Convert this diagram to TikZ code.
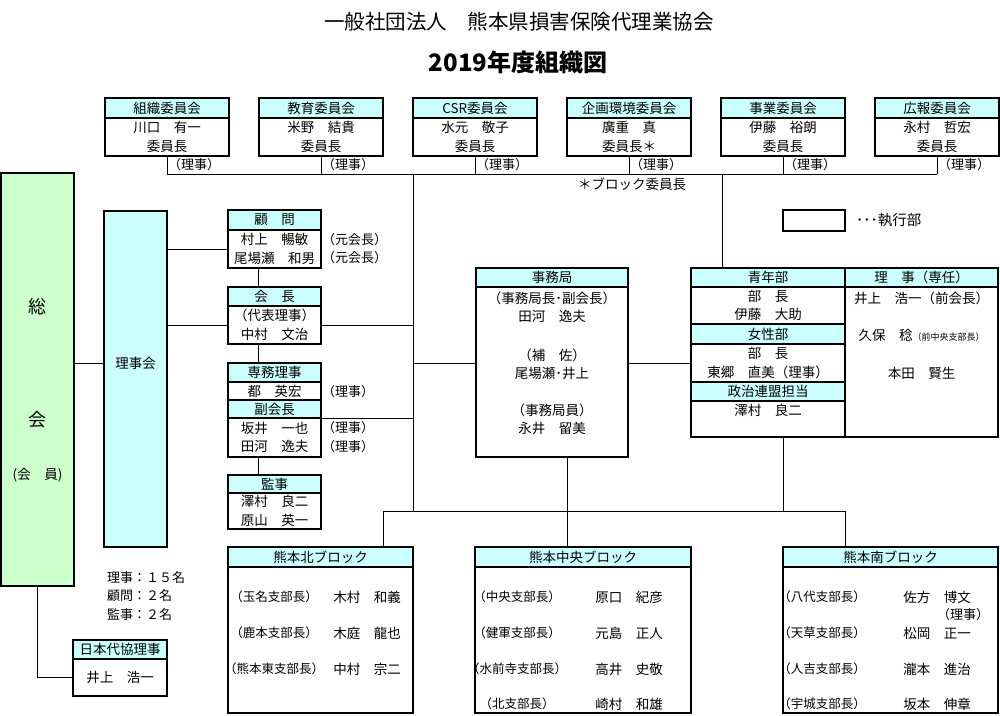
\documentclass[tikz,border=0pt]{standalone}
\usepackage{fontspec}
\setmainfont{Noto Sans CJK JP}
\usetikzlibrary{positioning}
\definecolor{hdrcyan}{RGB}{204,255,255}
\definecolor{sokaigreen}{RGB}{204,255,204}

\begin{document}
\begin{tikzpicture}[
      x=1pt, y=-1pt,
      node distance=0pt,
      font=\fontsize{13.5}{18.5}\selectfont,
      hdr/.style={draw, fill=hdrcyan, line width=1.3pt, inner sep=0pt, outer sep=0pt, anchor=north},
      panel/.style={draw, line width=1.3pt, inner sep=0pt, outer sep=0pt, align=center},
      link/.style={line width=1pt},
      txt/.style={inner sep=0pt, align=center},
      note/.style={anchor=west, inner sep=0pt, font=\fontsize{13}{15}\selectfont},
      lbl/.style={inner sep=0pt, font=\fontsize{12.5}{14}\selectfont}
    ]
    \useasboundingbox (0,0) rectangle (1000,715);

    \node[txt, font=\fontsize{20.5}{24}\selectfont] (title) at (519,22) {一般社団法人　熊本県損害保険代理業協会};
    \node[txt, font=\fontsize{24}{28}\selectfont\bfseries] (subtitle) at (518,62) {2019年度組織図};

    \node[hdr, minimum width=124pt, minimum height=20pt] (soshiki) at (167,98) {組織委員会};
    \node[panel, minimum width=124pt, minimum height=38pt, below=of soshiki] (soshikiB) {川口　有一\\委員長};
    \node[hdr, minimum width=124pt, minimum height=20pt] (kyoiku) at (321,98) {教育委員会};
    \node[panel, minimum width=124pt, minimum height=38pt, below=of kyoiku] (kyoikuB) {米野　結貴\\委員長};
    \node[hdr, minimum width=124pt, minimum height=20pt] (csr) at (475,98) {CSR委員会};
    \node[panel, minimum width=124pt, minimum height=38pt, below=of csr] (csrB) {水元　敬子\\委員長};
    \node[hdr, minimum width=124pt, minimum height=20pt] (kikaku) at (629,98) {企画環境委員会};
    \node[panel, minimum width=124pt, minimum height=38pt, below=of kikaku] (kikakuB) {廣重　真\\委員長＊};
    \node[hdr, minimum width=124pt, minimum height=20pt] (jigyo) at (783,98) {事業委員会};
    \node[panel, minimum width=124pt, minimum height=38pt, below=of jigyo] (jigyoB) {伊藤　裕朗\\委員長};
    \node[hdr, minimum width=124pt, minimum height=20pt] (koho) at (937,98) {広報委員会};
    \node[panel, minimum width=124pt, minimum height=38pt, below=of koho] (kohoB) {永村　哲宏\\委員長};

    \node[note] (soshikiN) at (168,165) {（理事）};
    \node[note] (kyoikuN) at (322,165) {（理事）};
    \node[note] (csrN) at (476,165) {（理事）};
    \node[note] (kikakuN) at (630,165) {（理事）};
    \node[note] (jigyoN) at (784,165) {（理事）};
    \node[note] (kohoN) at (938,165) {（理事）};
    \node[txt] (blockcho) at (632,184) {＊ブロック委員長};

    \coordinate (bus) at (0,174);
    \coordinate (trunk) at (413,174);
    \coordinate (seinenTap) at (722,174);
    \coordinate (kitaTap) at (383,511);
    \coordinate (chuoTap) at (567,511);
    \coordinate (seijiTap) at (783,511);
    \coordinate (minamiTap) at (845,511);
    \coordinate (midrow) at (0,363);

    \node[panel, fill=sokaigreen, minimum width=73pt, minimum height=413pt, anchor=north west] (sokai) at (1,173) {};
    \node[txt, font=\fontsize{18}{20}\selectfont] (sokaiA) at (37.5,307) {総};
    \node[txt, font=\fontsize{18}{20}\selectfont] (sokaiB) at (37.5,420) {会};
    \node[txt] (sokaiC) at (37.5,475) {(会　員)};

    \node[panel, fill=hdrcyan, minimum width=63pt, minimum height=336pt, anchor=north west] (rijikai) at (104,211) {};
    \node[txt] (rijikaiT) at (135.5,363) {理事会};

    \node[hdr, minimum width=94pt, minimum height=19pt] (nichidai) at (120,640) {日本代協理事};
    \node[panel, minimum width=94pt, minimum height=37pt, below=of nichidai] (nichidaiB) {井上　浩一};

    \node[note] (countA) at (107,578) {理事：１５名};
    \node[note] (countB) at (107,596) {顧問：２名};
    \node[note] (countC) at (107,615) {監事：２名};

    \node[hdr, minimum width=93pt, minimum height=20pt] (komon) at (274.5,210) {顧　問};
    \node[panel, minimum width=93pt, minimum height=38pt, below=of komon] (komonB) {村上　暢敏\\尾場瀬　和男};
    \node[note] (komonN1) at (322,240) {（元会長）};
    \node[note] (komonN2) at (322,258) {（元会長）};

    \node[hdr, minimum width=93pt, minimum height=19pt] (kaicho) at (274.5,287) {会　長};
    \node[panel, minimum width=93pt, minimum height=38pt, below=of kaicho] (kaichoB) {（代表理事）\\中村　文治};

    \node[hdr, minimum width=93pt, minimum height=19pt] (senmu) at (274.5,363) {専務理事};
    \node[panel, minimum width=93pt, minimum height=18pt, below=of senmu] (senmuB) {都　英宏};
    \node[hdr, minimum width=93pt, minimum height=18pt, below=of senmuB] (fuku) {副会長};
    \node[panel, minimum width=93pt, minimum height=39pt, below=of fuku] (fukuB) {坂井　一也\\田河　逸夫};
    \node[note] (senmuN) at (322,392) {（理事）};
    \node[note] (fukuN1) at (322,428) {（理事）};
    \node[note] (fukuN2) at (322,447) {（理事）};

    \node[hdr, minimum width=93pt, minimum height=18pt] (kanji) at (274.5,475) {監事};
    \node[panel, minimum width=93pt, minimum height=36pt, below=of kanji] (kanjiB) {澤村　良二\\原山　英一};

    \node[hdr, minimum width=152pt, minimum height=19pt] (jimu) at (552,268) {事務局};
    \node[panel, minimum width=152pt, minimum height=170pt, below=of jimu] (jimuB) {};
    \node[txt] (jimuT1) at (552,298) {（事務局長･副会長）};
    \node[txt] (jimuT2) at (552,316) {田河　逸夫};
    \node[txt] (jimuT3) at (552,355) {（補　佐）};
    \node[txt] (jimuT4) at (552,373) {尾場瀬･井上};
    \node[txt] (jimuT5) at (552,410) {（事務局員）};
    \node[txt] (jimuT6) at (552,428) {永井　留美};

    \node[hdr, minimum width=154pt, minimum height=19pt] (seinen) at (768,268) {青年部};
    \node[panel, minimum width=154pt, minimum height=37pt, below=of seinen] (seinenB) {部　長\\伊藤　大助};
    \node[hdr, minimum width=154pt, minimum height=20pt, below=of seinenB] (josei) {女性部};
    \node[panel, minimum width=154pt, minimum height=38pt, below=of josei] (joseiB) {部　長\\東郷　直美（理事）};
    \node[hdr, minimum width=154pt, minimum height=19pt, below=of joseiB] (seiji) {政治連盟担当};
    \node[panel, minimum width=154pt, minimum height=36pt, below=of seiji] (seijiB) {};
    \node[txt] (seijiT) at (768,410) {澤村　良二};

    \node[hdr, minimum width=153pt, minimum height=19pt] (senin) at (921.5,268) {理　事（専任）};
    \node[panel, minimum width=153pt, minimum height=150pt, below=of senin] (seninB) {};
    \node[txt] (seninT1) at (921.5,298) {井上　浩一（前会長）};
    \node[txt] (seninT2) at (921.5,335) {久保　稔{\fontsize{9}{10}\selectfont（前中央支部長）}};
    \node[txt] (seninT3) at (921.5,373) {本田　賢生};

    \node[panel, minimum width=62pt, minimum height=21pt, anchor=north west] (legend) at (783,210) {};
    \node[note, font=\fontsize{14.5}{16}\selectfont, right=11pt of legend] (legendT) {･･･執行部};

    \node[hdr, minimum width=185pt, minimum height=20pt] (kita) at (320.5,547) {熊本北ブロック};
    \node[panel, minimum width=185pt, minimum height=146pt, below=of kita] (kitaB) {};
    \node[lbl] (kitaL1) at (274,597) {（玉名支部長）};
    \node[lbl] (kitaL2) at (274,633) {（鹿本支部長）};
    \node[lbl] (kitaL3) at (274,669) {（熊本東支部長）};
    \node[txt] (kitaN1) at (367,597) {木村　和義};
    \node[txt] (kitaN2) at (367,633) {木庭　龍也};
    \node[txt] (kitaN3) at (367,669) {中村　宗二};

    \node[hdr, minimum width=216pt, minimum height=20pt] (chuo) at (583,547) {熊本中央ブロック};
    \node[panel, minimum width=216pt, minimum height=146pt, below=of chuo] (chuoB) {};
    \node[lbl] (chuoL1) at (517,597) {（中央支部長）};
    \node[lbl] (chuoL2) at (517,633) {（健軍支部長）};
    \node[lbl] (chuoL3) at (517,669) {（水前寺支部長）};
    \node[lbl] (chuoL4) at (517,704) {（北支部長）};
    \node[txt] (chuoN1) at (629,597) {原口　紀彦};
    \node[txt] (chuoN2) at (629,633) {元島　正人};
    \node[txt] (chuoN3) at (629,669) {高井　史敬};
    \node[txt] (chuoN4) at (629,704) {崎村　和雄};

    \node[hdr, minimum width=215pt, minimum height=20pt] (minami) at (890.5,547) {熊本南ブロック};
    \node[panel, minimum width=215pt, minimum height=146pt, below=of minami] (minamiB) {};
    \node[lbl] (minamiL1) at (822,597) {（八代支部長）};
    \node[lbl] (minamiL2) at (822,633) {（天草支部長）};
    \node[lbl] (minamiL3) at (822,669) {（人吉支部長）};
    \node[lbl] (minamiL4) at (822,704) {（宇城支部長）};
    \node[txt] (minamiN1) at (937,597) {佐方　博文};
    \node[note] (minamiN1b) at (937,615) {（理事）};
    \node[txt] (minamiN2) at (937,633) {松岡　正一};
    \node[txt] (minamiN3) at (937,669) {瀧本　進治};
    \node[txt] (minamiN4) at (937,704) {坂本　伸章};

    \draw[link] (soshikiB.south) -- (soshikiB.south |- bus);
    \draw[link] (kyoikuB.south) -- (kyoikuB.south |- bus);
    \draw[link] (csrB.south) -- (csrB.south |- bus);
    \draw[link] (kikakuB.south) -- (kikakuB.south |- bus);
    \draw[link] (jigyoB.south) -- (jigyoB.south |- bus);
    \draw[link] (kohoB.south) -- (kohoB.south |- bus);
    \draw[link] (soshikiB.south |- bus) -- (kohoB.south |- bus);
    \draw[link] (trunk) -- (trunk |- kitaTap);
    \draw[link] (seinenTap) -- (seinenTap |- seinen.north);

    \draw[link] (rijikaiT -| sokai.east) -- (rijikaiT -| rijikai.west);
    \draw[link] (sokai.south) |- (nichidaiB.west);
    \draw[link] (rijikai.east |- komonB) -- (komonB.west);
    \draw[link] (rijikai.east |- kaichoB) -- (kaichoB.west);
    \draw[link] ([xshift=-16pt]komonB.south) -- ([xshift=-16pt]kaicho.north);
    \draw[link] ([xshift=-16pt]kaichoB.south) -- ([xshift=-16pt]senmu.north);
    \draw[link] ([xshift=-16pt]fukuB.south) -- ([xshift=-16pt]kanji.north);
    \draw[link] (kaichoB.east) -- (kaichoB.east -| trunk);
    \draw[link] (fuku.south east) -- (fuku.south east -| trunk);

    \draw[link] (trunk |- midrow) -- (jimuB.west |- midrow);
    \draw[link] (jimuB.east |- midrow) -- (joseiB.west |- midrow);
    \draw[link] (chuoTap |- jimuB.south) -- (chuoTap |- chuo.north);
    \draw[link] (seijiTap |- seijiB.south) -- (seijiTap);
    \draw[link] (kitaTap) -- (minamiTap);
    \draw[link] (kitaTap) -- (kitaTap |- kita.north);
    \draw[link] (minamiTap) -- (minamiTap |- minami.north);
  \end{tikzpicture}
\end{document}
